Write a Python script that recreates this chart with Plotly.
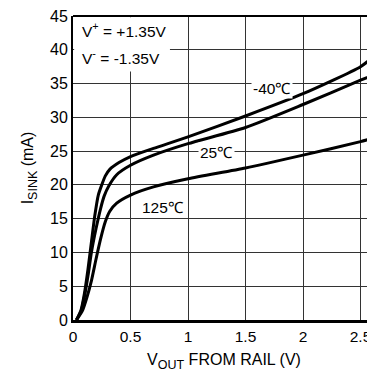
import plotly.graph_objects as go

# Data
v_m40 = [0.03, 0.07, 0.10, 0.13, 0.16, 0.19, 0.22, 0.25, 0.28, 0.32, 0.40, 0.50, 0.70, 1.0, 1.5, 2.0, 2.5, 2.63]
i_m40 = [0.0, 1.5, 4.0, 7.5, 11.5, 15.5, 18.5, 20.0, 21.3, 22.3, 23.3, 24.2, 25.4, 27.1, 30.2, 33.5, 37.5, 39.2]

v_25 = [0.03, 0.07, 0.10, 0.13, 0.16, 0.20, 0.24, 0.27, 0.31, 0.38, 0.50, 0.70, 1.0, 1.5, 2.0, 2.5, 2.63]
i_25 = [0.0, 1.3, 3.5, 6.5, 10.0, 13.5, 16.5, 18.3, 19.8, 21.5, 22.9, 24.4, 26.1, 28.5, 31.9, 35.5, 36.4]

v_125 = [0.03, 0.08, 0.12, 0.16, 0.20, 0.24, 0.28, 0.32, 0.38, 0.50, 0.70, 1.0, 1.5, 2.0, 2.5, 2.63]
i_125 = [0.0, 1.3, 3.3, 5.8, 9.0, 12.0, 14.5, 16.1, 17.3, 18.5, 19.7, 20.9, 22.5, 24.4, 26.4, 27.0]

x_ticks = [0, 0.5, 1, 1.5, 2, 2.5]
x_tick_labels = ["0", "0.5", "1", "1.5", "2", "2.5"]
y_ticks = [0, 5, 10, 15, 20, 25, 30, 35, 40, 45]

labels = ["-40℃", "25℃", "125℃"]
label_x = [1.73, 1.25, 0.785]
label_y = [34.2, 24.8, 16.7]

FONT = "Liberation Sans, Arial, sans-serif"
FS = 15.5

fig = go.Figure()
for v, i in [(v_m40, i_m40), (v_25, i_25), (v_125, i_125)]:
    fig.add_trace(go.Scatter(x=v, y=i, mode="lines",
                             line=dict(color="black", width=3, shape="spline", smoothing=0.6),
                             showlegend=False, hoverinfo="skip"))

for t, x, y in zip(labels, label_x, label_y):
    fig.add_annotation(x=x, y=y, text=t, showarrow=False, bgcolor="white",
                       font=dict(family=FONT, size=FS, color="black"), borderpad=1)

# condition box
fig.add_shape(type="rect", x0=0.01, x1=0.843, y0=36.8, y1=44.8, fillcolor="white",
              line=dict(width=0), layer="above")
fig.add_annotation(x=0.06, y=43.0, text="V<sup>+</sup> = +1.35V", showarrow=False,
                   xanchor="left", font=dict(family=FONT, size=FS, color="black"))
fig.add_annotation(x=0.06, y=39.0, text="V<sup>-</sup> = -1.35V", showarrow=False,
                   xanchor="left", font=dict(family=FONT, size=FS, color="black"))

# top border
fig.add_shape(type="line", xref="paper", yref="paper", x0=0, x1=1, y0=1, y1=1,
              line=dict(color="black", width=2))

SUB = '<sub><span style="font-size:12.5px">{}</span></sub>'

# page body has an 8px margin, so the figure is sized/offset to compensate
fig.update_layout(
    width=367, height=365,
    margin=dict(l=65, r=0, t=4, b=53),
    paper_bgcolor="white", plot_bgcolor="white",
    font=dict(family=FONT, size=FS, color="black"),
    xaxis=dict(range=[0, 2.626], tickvals=x_ticks, ticktext=x_tick_labels,
               showgrid=True, gridcolor="#333", gridwidth=1,
               showline=True, linecolor="black", linewidth=3, zeroline=False,
               ticks="", ticklen=0, tickfont=dict(size=FS),
               title=dict(text="V" + SUB.format("OUT") + " FROM RAIL (V)", standoff=11,
                          font=dict(family=FONT, size=16))),
    yaxis=dict(range=[0, 45], tickvals=y_ticks, ticklabeloverflow="allow",
               showgrid=True, gridcolor="#333", gridwidth=1,
               showline=True, linecolor="black", linewidth=2, zeroline=False,
               ticks="", ticklen=0, tickfont=dict(size=16),
               title=dict(text="I" + SUB.format("SINK") + " (mA)", standoff=12,
                          font=dict(family=FONT, size=16))),
)

fig.write_html("out.html")
